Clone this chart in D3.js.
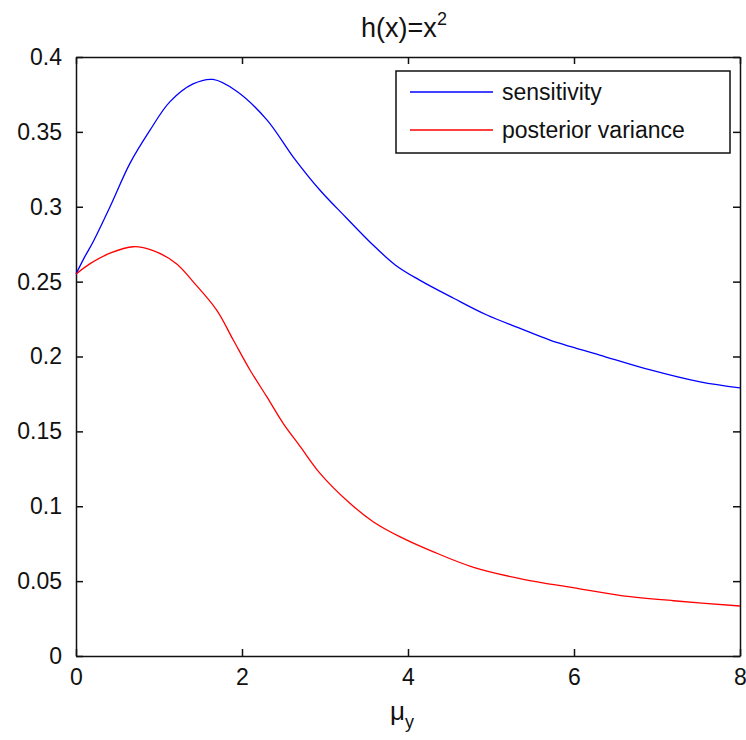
<!DOCTYPE html>
<html>
<head>
<meta charset="utf-8">
<script src="https://cdn.jsdelivr.net/npm/d3@7"></script>
<style>
  html, body { margin: 0; padding: 0; background: #fff; }
  svg { display: block; font-family: "Liberation Sans", Arial, sans-serif; }
</style>
</head>
<body>
<svg id="chart" width="746" height="740"></svg>
<script>
// ---- data ----
const sensX = [0, 0.1, 0.21, 0.41, 0.65, 0.89, 1.13, 1.41, 1.65, 1.94, 2.30, 2.62, 2.94, 3.25, 3.55, 3.85, 4.14, 4.55, 4.95, 5.35, 5.71, 6.31, 6.92, 7.52, 8.0];
const sensY = [0.255, 0.266, 0.277, 0.300, 0.329, 0.351, 0.370, 0.382, 0.385, 0.377, 0.358, 0.333, 0.311, 0.293, 0.276, 0.261, 0.251, 0.2389, 0.2277, 0.2188, 0.211, 0.201, 0.191, 0.183, 0.179];
const varX = [0, 0.17, 0.41, 0.69, 0.93, 1.21, 1.41, 1.695, 1.895, 2.096, 2.30, 2.50, 2.70, 2.94, 3.30, 3.58, 3.90, 4.30, 4.79, 5.39, 5.99, 6.59, 7.20, 8.0];
const varY = [0.255, 0.262, 0.269, 0.2733, 0.2707, 0.262, 0.250, 0.231, 0.211, 0.191, 0.173, 0.155, 0.140, 0.122, 0.102, 0.0897, 0.0797, 0.0697, 0.0592, 0.0512, 0.0456, 0.0401, 0.0369, 0.0334];
const xTicks = [0, 2, 4, 6, 8];
const yTicks = [0, 0.05, 0.1, 0.15, 0.2, 0.25, 0.3, 0.35, 0.4];
const seriesNames = ["sensitivity", "posterior variance"];
const seriesColors = ["#0000ff", "#ff0000"];

// ---- layout ----
const svg = d3.select("#chart");
const L = 76, R = 740, T = 57, B = 656;
const x = d3.scaleLinear().domain([0, 8]).range([L, R]);
const y = d3.scaleLinear().domain([0, 0.4]).range([B, T]);
const fs = 23;

// axes (ticks inside, box)
const axStroke = "#111";
const xBottom = d3.axisBottom(x).tickValues(xTicks).tickSizeInner(-7).tickSizeOuter(0).tickPadding(13).tickFormat(d3.format("d"));
const xTop = d3.axisTop(x).tickValues(xTicks).tickSizeInner(-7).tickSizeOuter(0).tickFormat("");
const yLeft = d3.axisLeft(y).tickValues(yTicks).tickSizeInner(-7).tickSizeOuter(0).tickPadding(14).tickFormat(d => d === 0 ? "0" : String(+d.toFixed(2)));
const yRight = d3.axisRight(y).tickValues(yTicks).tickSizeInner(-7).tickSizeOuter(0).tickFormat("");

function styleAxis(g) {
  g.select(".domain").attr("stroke", axStroke).attr("stroke-width", 1.5);
  g.selectAll(".tick line").attr("stroke", axStroke).attr("stroke-width", 1.5);
  g.selectAll(".tick text").attr("fill", "#111").attr("font-size", fs).attr("font-family", "Liberation Sans, Arial, sans-serif");
}
svg.append("g").attr("transform", `translate(0,${B})`).call(xBottom).call(styleAxis);
svg.append("g").attr("transform", `translate(0,${T})`).call(xTop).call(styleAxis);
svg.append("g").attr("transform", `translate(${L},0)`).call(yLeft).call(styleAxis);
svg.append("g").attr("transform", `translate(${R},0)`).call(yRight).call(styleAxis);

// lines
const line = d3.line().x(d => x(d[0])).y(d => y(d[1])).curve(d3.curveCatmullRom.alpha(0.5));
const series = [d3.zip(sensX, sensY), d3.zip(varX, varY)];
series.forEach((s, i) => {
  svg.append("path").datum(s).attr("d", line)
    .attr("fill", "none").attr("stroke", seriesColors[i]).attr("stroke-width", 1.3);
});

// legend
const lg = svg.append("g");
lg.append("rect").attr("x", 396).attr("y", 71).attr("width", 334).attr("height", 82)
  .attr("fill", "#fff").attr("stroke", axStroke).attr("stroke-width", 1.5);
seriesNames.forEach((n, i) => {
  const ly = 92 + i * 38;
  lg.append("line").attr("x1", 410).attr("x2", 493).attr("y1", ly).attr("y2", ly)
    .attr("stroke", seriesColors[i]).attr("stroke-width", 1.3);
  lg.append("text").attr("x", 502).attr("y", ly).attr("dy", "0.35em")
    .attr("font-size", fs).attr("fill", "#111").text(n);
});

// title
const title = svg.append("text").attr("x", 404).attr("y", 37).attr("text-anchor", "middle")
  .attr("font-size", 27).attr("fill", "#111");
title.append("tspan").text("h(x)=x");
title.append("tspan").attr("font-size", 18).attr("dy", -12).text("2");

// x label
const xl = svg.append("text").attr("x", 402).attr("y", 720).attr("text-anchor", "middle")
  .attr("font-size", 26).attr("fill", "#111");
xl.append("tspan").text("μ");
xl.append("tspan").attr("font-size", 18).attr("dy", 8).text("y");
</script>
</body>
</html>
